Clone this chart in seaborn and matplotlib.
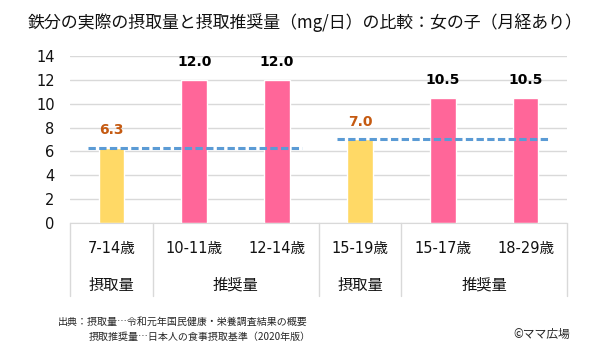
import matplotlib
matplotlib.use("Agg")
import matplotlib.pyplot as plt
import matplotlib.transforms as mtransforms
import seaborn as sns

# data
ages = ["7-14歳", "10-11歳", "12-14歳", "15-19歳", "15-17歳", "18-29歳"]
values = [6.3, 12.0, 12.0, 7.0, 10.5, 10.5]
kinds = ["摂取量", "推奨量", "推奨量", "摂取量", "推奨量", "推奨量"]
groups = ["摂取量", "推奨量", "摂取量", "推奨量"]
group_spans = [(0, 0), (1, 2), (3, 3), (4, 5)]
intake_refs = [(6.3, 0, 2), (7.0, 3, 5)]  # value, first bar, last bar

sns.set_style("white")
plt.rcParams["font.family"] = ["DejaVu Sans", "Noto Sans CJK JP"]
JP = ["Noto Sans CJK JP", "DejaVu Sans"]

YELLOW = "#FFD966"
PINK = "#FF6699"
colors = [YELLOW if k == "摂取量" else PINK for k in kinds]

fig = plt.figure(figsize=(6.11, 3.57), dpi=100)
ax = fig.add_axes([0.1146, 0.3754, 0.8134, 0.4678])

sns.barplot(x=ages, y=values, hue=ages, palette=colors, legend=False,
            width=0.31, saturation=1, ax=ax)

ax.set_xlim(-0.5, 5.5)
ax.set_ylim(0, 14)
ax.set_yticks(range(0, 15, 2))
ax.yaxis.grid(True, color="#D9D9D9", lw=1)
ax.set_axisbelow(True)
for s in ["top", "right", "left"]:
    ax.spines[s].set_visible(False)
ax.spines["bottom"].set_color("#D9D9D9")
ax.tick_params(axis="y", length=0, pad=11, labelsize=10.5, labelcolor="#111111")
ax.set_xticks([])
ax.set_xlabel("")
ax.set_ylabel("")

# value labels
for i, v in enumerate(values):
    c = "#C55A11" if kinds[i] == "摂取量" else "black"
    ax.text(i, v + 1.5, f"{v:.1f}", ha="center", va="center",
            fontsize=10, fontweight="bold", color=c)

# dashed reference lines for intake
for v, a, b in intake_refs:
    ax.plot([a - 0.28, b + 0.3], [v, v], color="#5B9BD5", lw=2.2,
            dashes=(2.4, 1.1), zorder=5)

# category table below the axis
trans = mtransforms.blended_transform_factory(ax.transData, ax.transAxes)
for x in [-0.5, 0.5, 2.5, 3.5, 5.5]:
    ax.plot([x, x], [0, -0.437], transform=trans, color="#D9D9D9", lw=1,
            clip_on=False)
for i, lab in enumerate(ages):
    ax.text(i, -0.15, lab, transform=trans, ha="center", va="center",
            fontsize=10.5, color="#111111")
for g, (a, b) in zip(groups, group_spans):
    ax.text((a + b) / 2, -0.371, g, transform=trans, ha="center",
            va="center", fontsize=11, color="#111111", family=JP)

fig.text(0.5, 0.938, "鉄分の実際の摂取量と摂取推奨量（mg/日）の比較：女の子（月経あり）",
         ha="center", va="center", fontsize=12.2, color="#111111", family=JP)

fig.text(58 / 611, 1 - 322 / 357, "出典：摂取量…令和元年国民健康・栄養調査結果の概要",
         ha="left", va="center", fontsize=7.2, family=JP)
fig.text(89 / 611, 1 - 337 / 357, "摂取推奨量…日本人の食事摂取基準（2020年版）",
         ha="left", va="center", fontsize=7.2, family=JP)
fig.text(570 / 611, 1 - 334 / 357, "©ママ広場", ha="right", va="center",
         fontsize=8.5, family=JP)

fig.savefig("out.png", dpi=100)
